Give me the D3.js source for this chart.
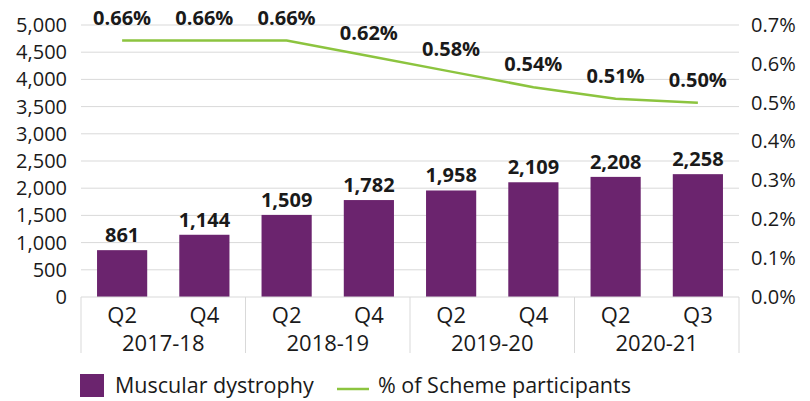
<!DOCTYPE html>
<html>
<head>
<meta charset="utf-8">
<script src="https://cdn.jsdelivr.net/npm/d3@7"></script>
<style>
  body { margin: 0; background: #fff; }
  text { font-family: "Open Sans", "Noto Sans", sans-serif; fill: #1a1a1a; }
</style>
</head>
<body>
<svg id="chart" width="810" height="401"></svg>
<script>
// Data
const quarters = ["Q2", "Q4", "Q2", "Q4", "Q2", "Q4", "Q2", "Q3"];
const years = ["2017-18", "2018-19", "2019-20", "2020-21"];
const participants = [861, 1144, 1509, 1782, 1958, 2109, 2208, 2258];
const share = [0.66, 0.66, 0.66, 0.62, 0.58, 0.54, 0.51, 0.50];
const leftTicks = d3.range(0, 5001, 500);
const rightTicks = d3.range(0, 0.71, 0.1);

const purple = "#6b246e";
const green = "#8cc43f";
const grid = "#d9d9d9";

const margin = {top: 25, right: 71, bottom: 104, left: 81};
const width = 810 - margin.left - margin.right;
const height = 401 - margin.top - margin.bottom;

const svg = d3.select("#chart");
const g = svg.append("g")
  .attr("transform", `translate(${margin.left}, ${margin.top})`);

const idx = d3.range(quarters.length);
const x = d3.scaleBand()
  .domain(idx)
  .range([0, width])
  .paddingInner(0.39)
  .paddingOuter(0.195);

const y = d3.scaleLinear().domain([0, 5000]).range([height, 0]);
const y2 = d3.scaleLinear().domain([0, 0.7]).range([height, 0]);

// Grid lines
g.append("g")
  .selectAll("line")
  .data(leftTicks.slice(1))
  .enter().append("line")
    .attr("x1", 0)
    .attr("x2", width)
    .attr("y1", (d) => y(d))
    .attr("y2", (d) => y(d))
    .attr("stroke", grid)
    .attr("stroke-width", 1);

// Left axis
const yAxis = d3.axisLeft(y)
  .tickValues(leftTicks)
  .tickSize(0)
  .tickPadding(14)
  .tickFormat(d3.format(","));
g.append("g")
  .call(yAxis)
  .call((a) => a.select(".domain").remove())
  .selectAll("text")
    .attr("font-size", "20px")
    .attr("font-family", "'Open Sans', sans-serif")
    .attr("fill", "#1a1a1a");

// Right axis
const y2Axis = d3.axisRight(y2)
  .tickValues(rightTicks)
  .tickSize(0)
  .tickPadding(12)
  .tickFormat((d) => d.toFixed(1) + "%");
g.append("g")
  .attr("transform", `translate(${width}, 0)`)
  .call(y2Axis)
  .call((a) => a.select(".domain").remove())
  .selectAll("text")
    .attr("font-size", "20px")
    .attr("font-family", "'Open Sans', sans-serif")
    .attr("fill", "#1a1a1a");

// Bars
g.append("g")
  .selectAll("rect")
  .data(participants)
  .enter().append("rect")
    .attr("x", (d, i) => x(i))
    .attr("y", (d) => y(d))
    .attr("width", x.bandwidth())
    .attr("height", (d) => height - y(d))
    .attr("fill", purple);

// Bar labels
g.append("g")
  .selectAll("text")
  .data(participants)
  .enter().append("text")
    .attr("x", (d, i) => x(i) + x.bandwidth() / 2)
    .attr("y", (d) => y(d) - 8)
    .attr("text-anchor", "middle")
    .attr("font-size", "20px")
    .attr("font-weight", "bold")
    .text((d) => d3.format(",")(d));

// Line
const line = d3.line()
  .x((d, i) => x(i) + x.bandwidth() / 2)
  .y((d) => y2(d));
g.append("path")
  .datum(share)
  .attr("d", line)
  .attr("fill", "none")
  .attr("stroke", green)
  .attr("stroke-width", 2.5);

// Line labels
g.append("g")
  .selectAll("text")
  .data(share)
  .enter().append("text")
    .attr("x", (d, i) => x(i) + x.bandwidth() / 2)
    .attr("y", (d) => y2(d) - 16)
    .attr("text-anchor", "middle")
    .attr("font-size", "20px")
    .attr("font-weight", "bold")
    .text((d) => d.toFixed(2) + "%");

// X axis: baseline, group separators, quarter and year labels
const axisG = g.append("g").attr("transform", `translate(0, ${height})`);
const groupW = width / years.length;

axisG.append("line")
  .attr("x1", 0).attr("x2", width)
  .attr("y1", 0).attr("y2", 0)
  .attr("stroke", grid);

axisG.selectAll("line.sep")
  .data(d3.range(years.length + 1))
  .enter().append("line")
    .attr("class", "sep")
    .attr("x1", (d) => d * groupW)
    .attr("x2", (d) => d * groupW)
    .attr("y1", 0)
    .attr("y2", 56)
    .attr("stroke", grid);

axisG.selectAll("text.q")
  .data(quarters)
  .enter().append("text")
    .attr("class", "q")
    .attr("x", (d, i) => x(i) + x.bandwidth() / 2)
    .attr("y", 26)
    .attr("text-anchor", "middle")
    .attr("font-size", "22px")
    .text((d) => d);

axisG.selectAll("text.yr")
  .data(years)
  .enter().append("text")
    .attr("class", "yr")
    .attr("x", (d, i) => i * groupW + groupW / 2)
    .attr("y", 54)
    .attr("text-anchor", "middle")
    .attr("font-size", "22px")
    .text((d) => d);

// Legend
const legend = svg.append("g").attr("transform", "translate(80, 374)");
legend.append("rect")
  .attr("x", 0).attr("y", 0)
  .attr("width", 24).attr("height", 23)
  .attr("fill", purple);
legend.append("text")
  .attr("x", 35).attr("y", 19)
  .attr("font-size", "21.5px")
  .text("Muscular dystrophy");
legend.append("line")
  .attr("x1", 257).attr("x2", 289)
  .attr("y1", 15).attr("y2", 15)
  .attr("stroke", green)
  .attr("stroke-width", 2.5);
legend.append("text")
  .attr("x", 298).attr("y", 19)
  .attr("font-size", "21.5px")
  .text("% of Scheme participants");
</script>
</body>
</html>
